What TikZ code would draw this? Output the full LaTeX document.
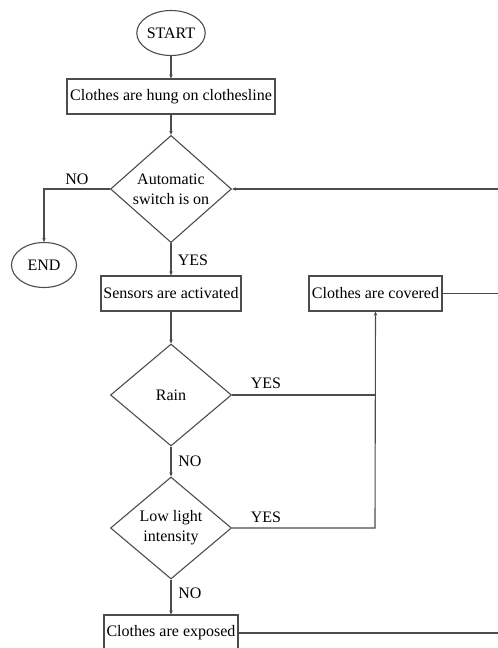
\documentclass[tikz,border=0pt]{standalone}
\usepackage{fontspec}
\setmainfont{Liberation Serif}
\usetikzlibrary{shapes.geometric,arrows.meta}
\begin{document}
\begin{tikzpicture}[x=1pt,y=-1pt,
  every node/.style={font=\fontsize{16}{20}\selectfont, text=black},
  line/.style={draw=black!70, line width=1.1pt},
  arr/.style={line, -{Stealth[length=4pt,width=3.5pt]}},
  procbox/.style={draw=black!70, line width=1.1pt, rectangle, inner sep=0pt, minimum height=35pt},
  termin/.style={draw=black!70, line width=1.1pt, ellipse, inner sep=0pt, minimum width=65pt, minimum height=45pt},
  decision/.style={draw=black!70, line width=1.1pt, diamond, inner sep=0pt, minimum width=121pt, minimum height=102pt, align=center},
  lbl/.style={inner sep=0pt}
]
\useasboundingbox (0,0) rectangle (498,648);
\clip (0,0) rectangle (498,648);
\node[termin] (start) at (171,33) {START};
\node[procbox, minimum width=208pt] (hung) at (171,96.5) {Clothes are hung on clothesline};
\node[decision] (d1) at (171,189) {Automatic\\switch is on};
\node[termin] (end) at (44,265) {END};
\node[procbox, minimum width=140pt] (sens) at (171,293.5) {Sensors are activated};
\node[procbox, minimum width=133pt] (cov) at (375.5,293.5) {Clothes are covered};
\node[decision] (rain) at (171,395) {Rain};
\node[decision] (low) at (171,528) {Low light\\intensity};
\node[procbox, minimum width=134pt, minimum height=36pt] (exp) at (171,633) {Clothes are exposed};
\coordinate (jr) at (375,395);
\coordinate (jl) at (375,528);
\coordinate (fb) at (510,189);
\coordinate (oc) at (510,293.5);
\coordinate (oe) at (510,633);
\coordinate (nl) at (44,189);
\draw[arr] (start) -- (hung);
\draw[arr] (hung) -- (d1);
\draw[arr] (d1.west) -- (nl) -- (end.north);
\draw[arr] (d1) -- (sens);
\draw[arr] (sens) -- (rain);
\draw[arr] (rain) -- (low);
\draw[arr] (low) -- (exp);
\draw[line] (rain.east) -- (jr);
\draw[arr] (low.east) -- (jl) -- (cov.south);
\draw[arr] (fb) -- (d1.east);
\draw[line] (cov.east) -- (oc);
\draw[line] (exp.east) -- (oe);
\node[lbl] (n1) at (77,179) {NO};
\node[lbl] (y1) at (193,260) {YES};
\node[lbl] (y2) at (266,383) {YES};
\node[lbl] (n2) at (190,461) {NO};
\node[lbl] (y3) at (266,517) {YES};
\node[lbl] (n3) at (190,593) {NO};
\end{tikzpicture}
\end{document}
